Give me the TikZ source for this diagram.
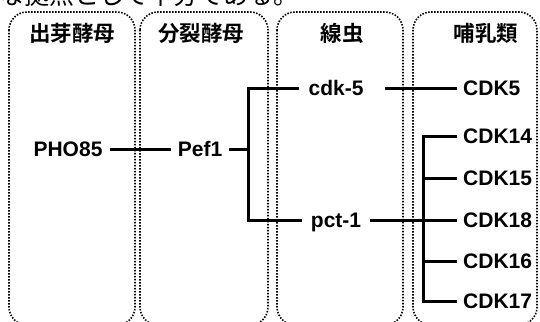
\documentclass[tikz,border=0pt]{standalone}
\usepackage{fontspec}
\setmainfont{Liberation Sans}
\newfontfamily\jpfont{Noto Sans CJK JP}
\newfontfamily\jpbold{Noto Sans CJK JP Bold}
\begin{document}
\begin{tikzpicture}[x=1pt,y=-1pt,
  panel/.style={draw=black, line width=1.6pt, dash pattern=on 1.5pt off 1.5pt, rounded corners=18pt},
  hdr/.style={font=\jpbold\fontsize{21.5}{22}\selectfont, inner sep=0pt},
  lbl/.style={font=\bfseries\fontsize{21}{22}\selectfont, inner ysep=0pt, inner xsep=7pt, text height=15pt, text depth=0pt},
  conn/.style={line width=3pt, line join=miter},
]
\useasboundingbox (0,0) rectangle (540,321);
% cropped sentence at the top
\node[font=\jpfont\fontsize{25}{25}\selectfont, anchor=base west, inner sep=0pt] (topline) at (-1,4.5) {な拠点として十分である。};
% panels
\draw[panel] (9,12) rectangle (135,325);
\draw[panel] (140,12) rectangle (268,325);
\draw[panel] (277,12) rectangle (403,325);
\draw[panel] (413,12) rectangle (537,325);
% headers
\node[hdr] (h1) at (72,33) {出芽酵母};
\node[hdr] (h2) at (201,33) {分裂酵母};
\node[hdr] (h3) at (342,33) {線虫};
\node[hdr] (h4) at (486,33) {哺乳類};
% labels
\node[lbl] (pho) at (68,149) {PHO85};
\node[lbl] (pef) at (200,149) {Pef1};
\node[lbl, inner xsep=9pt] (cdkf) at (336,88) {cdk-5};
\node[lbl, inner xsep=9pt] (pct) at (336,220) {pct-1};
\node[lbl, anchor=west, inner xsep=6pt] (C5) at (457,88) {CDK5};
\node[lbl, anchor=west, inner xsep=6pt] (C14) at (457,136) {CDK14};
\node[lbl, anchor=west, inner xsep=6pt] (C15) at (457,178) {CDK15};
\node[lbl, anchor=west, inner xsep=6pt] (C18) at (457,220) {CDK18};
\node[lbl, anchor=west, inner xsep=6pt] (C16) at (457,261) {CDK16};
\node[lbl, anchor=west, inner xsep=6pt] (C17) at (457,301) {CDK17};
% connectors
\coordinate (j1) at (248,149);
\coordinate (j2) at (423,0);
\draw[conn] (pho) -- (pef);
\draw[conn] (pef.east) -- (j1);
\draw[conn] (cdkf.west) -- (cdkf.west -| j1) -- (pct.west -| j1) -- (pct.west);
\draw[conn] ([xshift=12pt]cdkf.east) -- (C5.west);
\draw[conn] (pct.east) -- (C18.west);
\draw[conn] (C14.west) -- (C14.west -| j2) -- (C17.west -| j2) -- (C17.west);
\draw[conn] (C15.west -| j2) -- (C15.west);
\draw[conn] (C16.west -| j2) -- (C16.west);
\end{tikzpicture}
\end{document}
